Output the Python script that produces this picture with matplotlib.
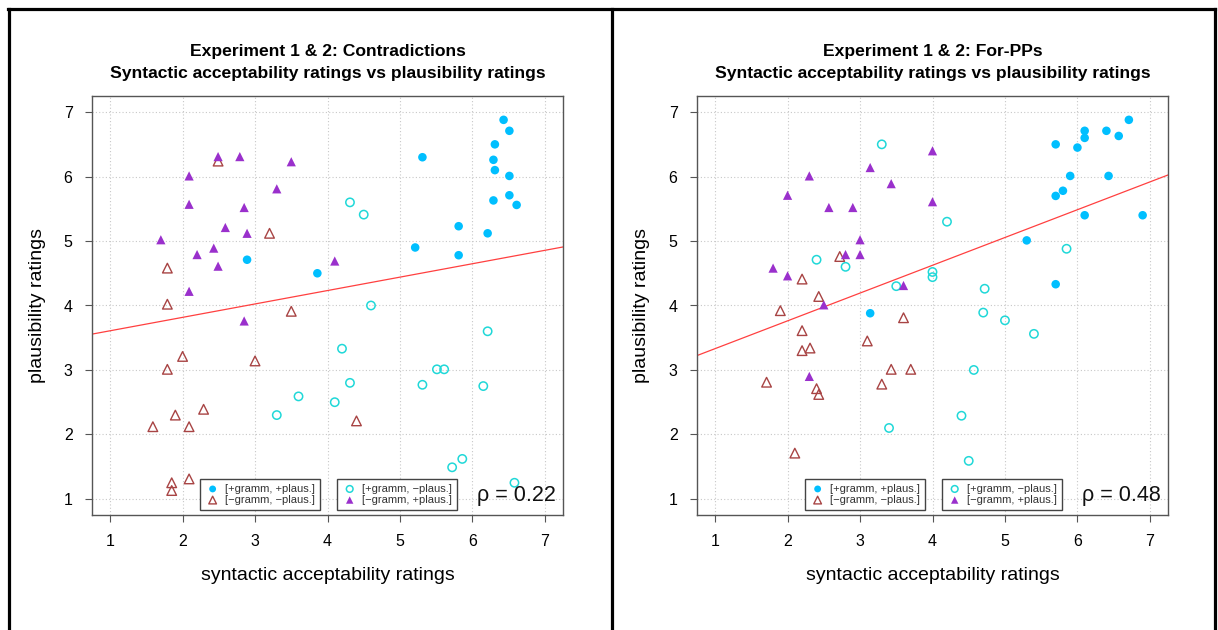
import numpy as np
import matplotlib
matplotlib.use("Agg")
import matplotlib.pyplot as plt
from matplotlib.lines import Line2D

plt.rcParams['font.family'] = ['Liberation Sans', 'DejaVu Sans']

# ---- panel 1: Contradictions ----
c_gp_x = [2.89, 3.86, 6.43, 6.51, 6.31, 5.31, 6.29, 6.31, 6.51, 6.51, 6.29, 6.61, 5.81, 6.21, 5.21, 5.81]
c_gp_y = [4.71, 4.50, 6.88, 6.71, 6.50, 6.30, 6.26, 6.10, 6.01, 5.71, 5.63, 5.56, 5.23, 5.12, 4.90, 4.78]
c_gi_x = [4.31, 4.50, 4.60, 6.21, 4.20, 5.51, 5.61, 4.31, 5.31, 6.15, 4.10, 3.60, 3.30, 5.86, 5.72, 6.58]
c_gi_y = [5.60, 5.41, 4.00, 3.60, 3.33, 3.01, 3.01, 2.80, 2.77, 2.75, 2.50, 2.59, 2.30, 1.62, 1.49, 1.25]
c_ii_x = [2.49, 3.20, 1.79, 1.79, 3.50, 2.00, 3.00, 1.79, 2.29, 1.90, 1.59, 2.09, 2.09, 1.85, 1.85, 4.40]
c_ii_y = [6.24, 5.12, 4.58, 4.02, 3.91, 3.21, 3.14, 3.01, 2.39, 2.30, 2.12, 2.12, 1.31, 1.25, 1.13, 2.21]
c_ip_x = [2.49, 2.79, 3.50, 2.09, 3.30, 2.09, 2.85, 2.59, 2.89, 1.70, 2.43, 2.20, 2.49, 2.09, 4.10, 2.85]
c_ip_y = [6.31, 6.31, 6.23, 6.01, 5.81, 5.57, 5.52, 5.21, 5.12, 5.02, 4.89, 4.79, 4.61, 4.22, 4.69, 3.76]
c_fit = (3.40, 0.208)   # intercept, slope
c_rho = "0.22"

# ---- panel 2: For-PPs ----
f_gp_x = [6.71, 6.10, 6.40, 6.10, 6.57, 5.70, 6.00, 5.90, 6.43, 5.80, 5.70, 6.10, 6.90, 5.30, 5.70, 3.14]
f_gp_y = [6.88, 6.71, 6.71, 6.60, 6.63, 6.50, 6.45, 6.01, 6.01, 5.78, 5.70, 5.40, 5.40, 5.01, 4.33, 3.88]
f_gi_x = [3.30, 2.40, 2.80, 3.50, 4.20, 4.00, 4.00, 4.72, 4.70, 5.85, 5.00, 5.40, 4.57, 4.40, 4.50, 3.40]
f_gi_y = [6.50, 4.71, 4.60, 4.30, 5.30, 4.52, 4.44, 4.26, 3.89, 4.88, 3.77, 3.56, 3.00, 2.29, 1.59, 2.10]
f_ii_x = [2.72, 2.20, 2.43, 1.90, 3.60, 2.20, 3.10, 2.20, 2.31, 3.43, 3.70, 1.71, 3.30, 2.40, 2.43, 2.10]
f_ii_y = [4.76, 4.41, 4.14, 3.92, 3.81, 3.61, 3.45, 3.30, 3.34, 3.01, 3.01, 2.81, 2.78, 2.71, 2.62, 1.71]
f_ip_x = [3.14, 2.30, 3.43, 2.00, 2.57, 2.90, 3.00, 2.80, 3.00, 1.80, 2.00, 3.60, 2.50, 4.00, 4.00, 2.30]
f_ip_y = [6.14, 6.01, 5.89, 5.71, 5.52, 5.52, 5.02, 4.79, 4.79, 4.58, 4.46, 4.31, 4.01, 6.40, 5.61, 2.90]
f_fit = (2.90, 0.431)
f_rho = "0.48"

labels = ["[+gramm, +plaus.]", "[\u2212gramm, \u2212plaus.]",
          "[+gramm, \u2212plaus.]", "[\u2212gramm, +plaus.]"]
ticks = [1, 2, 3, 4, 5, 6, 7]

FRAME = "#555555"


def panel(ax, title, gp, gi, ii, ip, fit, rho):
    ax.set_xlim(0.75, 7.25)
    ax.set_ylim(0.75, 7.25)
    ax.set_xticks(ticks)
    ax.set_yticks(ticks)
    ax.grid(True, linestyle=(0, (1, 2)), color="#c8c8c8", linewidth=0.8)
    ax.set_axisbelow(True)
    for s in ax.spines.values():
        s.set_color(FRAME)
        s.set_linewidth(1.0)
    ax.tick_params(direction="out", length=5, color=FRAME, labelsize=11.5, pad=9)

    ax.axline((0, fit[0]), slope=fit[1], color="#ff4040", linewidth=0.9, zorder=2)

    h1 = ax.scatter(gp[0], gp[1], marker="o", s=38, color="#00bfff", edgecolors="none", zorder=3)
    h3 = ax.scatter(gi[0], gi[1], marker="o", s=36, facecolors="none", edgecolors="#20d8d8",
                    linewidths=1.1, zorder=3)
    h2 = ax.scatter(ii[0], ii[1], marker="^", s=48, facecolors="none", edgecolors="#a84444",
                    linewidths=1.0, zorder=3)
    h4 = ax.scatter(ip[0], ip[1], marker="^", s=44, color="#9a30cc", edgecolors="none", zorder=3)

    ax.set_title(title, fontsize=12.6, fontweight="bold", pad=13, linespacing=1.6)
    ax.set_xlabel("syntactic acceptability ratings", fontsize=14, labelpad=13)
    ax.set_ylabel("plausibility ratings", fontsize=14, labelpad=13)

    leg_kw = dict(loc="lower left", fontsize=8, frameon=True, fancybox=False,
                  edgecolor="#444444", framealpha=1, borderaxespad=0, handletextpad=0.4,
                  labelspacing=0.1, borderpad=0.45, handlelength=1.4, scatterpoints=1,
                  markerscale=0.8)
    lg1 = ax.legend([h1, h2], labels[:2], bbox_to_anchor=(0.229, 0.012), **leg_kw)
    for t in lg1.get_texts():
        t.set_color("#333333")
    ax.add_artist(lg1)
    lg2 = ax.legend([h3, h4], labels[2:], bbox_to_anchor=(0.520, 0.012), **leg_kw)
    for t in lg2.get_texts():
        t.set_color("#333333")

    ax.text(0.985, 0.022, "\u03c1 = " + rho, transform=ax.transAxes, ha="right", va="bottom",
            fontsize=15.5, color="#111111")


fig = plt.figure(figsize=(12.18, 6.30), dpi=100)
ax1 = fig.add_axes([92 / 1218, 1 - 515 / 630, 471 / 1218, 419 / 630])
ax2 = fig.add_axes([697 / 1218, 1 - 515 / 630, 471 / 1218, 419 / 630])

panel(ax1, "Experiment 1 & 2: Contradictions\nSyntactic acceptability ratings vs plausibility ratings",
      (c_gp_x, c_gp_y), (c_gi_x, c_gi_y), (c_ii_x, c_ii_y), (c_ip_x, c_ip_y), c_fit, c_rho)
panel(ax2, "Experiment 1 & 2: For-PPs\nSyntactic acceptability ratings vs plausibility ratings",
      (f_gp_x, f_gp_y), (f_gi_x, f_gi_y), (f_ii_x, f_ii_y), (f_ip_x, f_ip_y), f_fit, f_rho)

# black outer frame of the two panels
lw = 2.3
for xs, ys in [([8 / 1218, 1215 / 1218], [1 - 8.5 / 630] * 2),
               ([8.5 / 1218] * 2, [0, 1 - 8.5 / 630]),
               ([612 / 1218] * 2, [0, 1 - 8.5 / 630]),
               ([1214.5 / 1218] * 2, [0, 1 - 8.5 / 630])]:
    fig.add_artist(Line2D(xs, ys, color="black", linewidth=lw, transform=fig.transFigure))

fig.savefig("out.png", dpi=100)
